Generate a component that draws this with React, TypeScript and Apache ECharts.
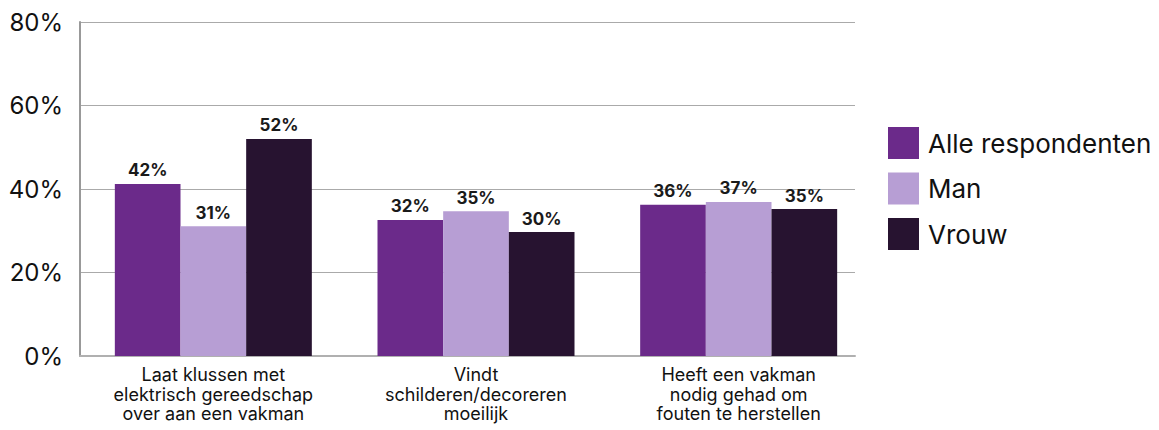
import React, { useEffect, useRef } from "react";
import * as echarts from "echarts";

const categories = [
  "Laat klussen met\nelektrisch gereedschap\nover aan een vakman",
  "Vindt\nschilderen/decoreren\nmoeilijk",
  "Heeft een vakman\nnodig gehad om\nfouten te herstellen",
];
const seriesNames = ["Alle respondenten", "Man", "Vrouw"];
const alleValues = [41.2, 32.6, 36.2];
const manValues = [31.1, 34.7, 36.9];
const vrouwValues = [52.0, 29.7, 35.2];
const alleLabels = ["42%", "32%", "36%"];
const manLabels = ["31%", "35%", "37%"];
const vrouwLabels = ["52%", "30%", "35%"];
const yTicks = [0, 20, 40, 60, 80];
const colors = ["#6B2A8A", "#B79ED4", "#271330"];

export default function App() {
  const ref = useRef<HTMLDivElement>(null);
  useEffect(() => {
    const chart = echarts.init(ref.current!, null, { renderer: "svg" });
    const font = "Inter, 'Noto Sans', sans-serif";
    const mk = (name: string, vals: number[], labels: string[], color: string) => ({
      name,
      type: "bar",
      xAxisIndex: 1,
      yAxisIndex: 1,
      data: vals,
      barGap: "0%",
      barCategoryGap: "25%",
      itemStyle: { color },
      label: {
        show: true,
        position: "top",
        distance: 5,
        fontFamily: font,
        fontSize: 17,
        fontWeight: "bold",
        color: "#1a1a1a",
        formatter: (p: any) => labels[p.dataIndex],
      },
    });
    chart.setOption({
      animation: false,
      textStyle: { fontFamily: font },
      grid: [
        { left: 80, right: 304, top: 22, bottom: 74 },
        { left: 82, right: 289, top: 22, bottom: 74 },
      ],
      legend: {
        orient: "vertical",
        left: 883,
        top: 122,
        itemWidth: 31,
        itemHeight: 32,
        itemGap: 13.5,
        icon: "rect",
        textStyle: { fontSize: 26, color: "#111", fontFamily: font, padding: [0, 0, 0, 4] },
        data: seriesNames,
      },
      xAxis: [
        {
          type: "category",
          gridIndex: 0,
          data: categories,
          axisTick: { show: false },
          axisLabel: { show: false },
          axisLine: { lineStyle: { color: "#b0b0b0", width: 2 } },
        },
        {
          type: "category",
          gridIndex: 1,
          data: categories,
          axisTick: { show: false },
          axisLine: { show: false },
          axisLabel: {
            fontSize: 18,
            lineHeight: 19.5,
            color: "#111",
            margin: 9,
            fontFamily: font,
          },
        },
      ],
      yAxis: [
        {
          type: "value",
          gridIndex: 0,
          min: yTicks[0],
          max: yTicks[yTicks.length - 1],
          interval: 20,
          axisLine: { show: true, lineStyle: { color: "#999", width: 2 } },
          axisTick: { show: false },
          splitLine: { lineStyle: { color: "#aaa", width: 1 } },
          axisLabel: {
            fontSize: 24,
            color: "#111",
            margin: 17,
            fontFamily: font,
            formatter: (v: number) => v + "%",
          },
        },
        {
          type: "value",
          gridIndex: 1,
          min: yTicks[0],
          max: yTicks[yTicks.length - 1],
          interval: 20,
          axisLine: { show: false },
          axisTick: { show: false },
          splitLine: { show: false },
          axisLabel: { show: false },
        },
      ],
      series: [
        mk(seriesNames[0], alleValues, alleLabels, colors[0]),
        mk(seriesNames[1], manValues, manLabels, colors[1]),
        mk(seriesNames[2], vrouwValues, vrouwLabels, colors[2]),
      ],
    });
    return () => chart.dispose();
  }, []);
  return <div ref={ref} style={{ width: 1159, height: 430, position: "absolute", left: 0, top: 0 }} />;
}
